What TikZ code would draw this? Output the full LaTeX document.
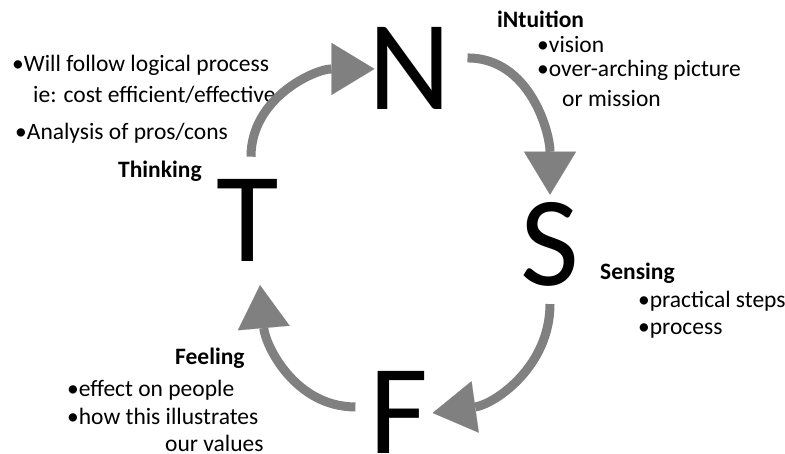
\documentclass[tikz,border=0pt]{standalone}
\usepackage{fontspec}
\setmainfont{Carlito}
\usetikzlibrary{arrows.meta}
\definecolor{arrowgray}{RGB}{128,128,128}
\begin{document}
\begin{tikzpicture}[
    x=1pt,y=1pt,
    letter/.style={anchor=base,inner sep=0pt,font=\fontsize{128}{128}\selectfont},
    txt/.style={anchor=base west,inner sep=0pt,font=\fontsize{23.5}{28}\selectfont},
    head/.style={txt,font=\fontsize{23.5}{28}\selectfont\bfseries},
    flow/.style={draw=arrowgray,line width=9pt,
      -{Triangle[length=43pt,width=52pt,line width=0.1pt]}}
  ]
  \useasboundingbox (0,0) rectangle (785,454);

  \node[letter] (N) at (410,344) {N};
  \node[letter] (T) at (248,192) {T};
  \node[letter] (S) at (550,168) {S};
  \node[letter] (F) at (399,0) {F};

  \node[txt] (thk1) at (12,382) {•Will follow logical process};
  \node[txt] (thk2) at (33,351) {ie: cost efficient/effective};
  \node[txt] (thk3) at (15,314) {•Analysis of pros/cons};
  \node[head] (thk) at (118,276) {Thinking};

  \node[head] (int) at (497,426) {iNtuition};
  \node[txt] (int1) at (537,401) {•vision};
  \node[txt] (int2) at (537,377) {•over-arching picture};
  \node[txt] (int3) at (562,347) {or mission};

  \node[head] (sen) at (600,174) {Sensing};
  \node[txt] (sen1) at (638,146) {•practical steps};
  \node[txt] (sen2) at (638,119) {•process};

  \node[head] (fee) at (175,89) {Feeling};
  \node[txt] (fee1) at (67,57) {•effect on people};
  \node[txt] (fee2) at (67,29) {•how this illustrates};
  \node[txt] (fee3) at (165,2) {our values};

  % cycle N -> S -> F -> T -> N
  \draw[flow] ([xshift=16pt,yshift=11pt]N.east) to[out=0,in=90] ([yshift=8pt]S.north);
  \draw[flow] ([yshift=-17pt]S.south) to[out=-90,in=8] ([xshift=4pt]F.east);
  \draw[flow] ([xshift=-14pt,yshift=6pt]F.west) to[out=180,in=-85] ([xshift=12pt,yshift=-23pt]T.south);
  \draw[flow] ([xshift=3pt,yshift=23pt]T.north) to[out=90,in=180] ([xshift=6pt]N.west);
\end{tikzpicture}
\end{document}
